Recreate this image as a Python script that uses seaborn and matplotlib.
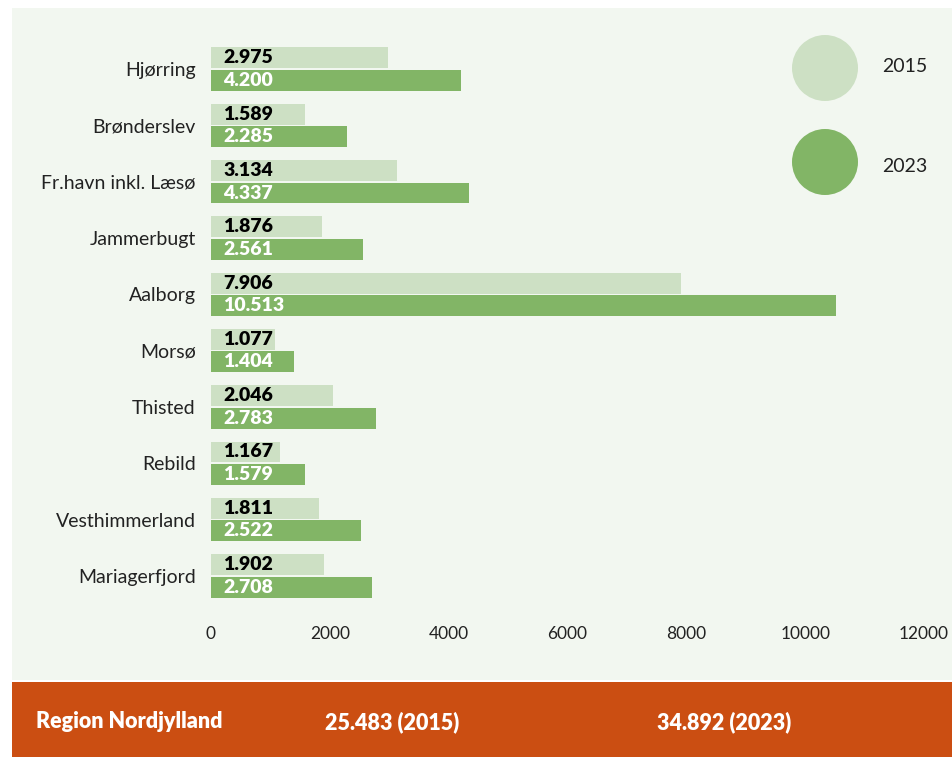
import pandas as pd
import seaborn as sns
import matplotlib.pyplot as plt
from matplotlib.patches import Rectangle, Ellipse

kommuner = ['Hjørring', 'Brønderslev', 'Fr.havn inkl. Læsø', 'Jammerbugt', 'Aalborg',
            'Morsø', 'Thisted', 'Rebild', 'Vesthimmerland', 'Mariagerfjord']
v2015 = [2975, 1589, 3134, 1876, 7906, 1077, 2046, 1167, 1811, 1902]
v2023 = [4200, 2285, 4337, 2561, 10513, 1404, 2783, 1579, 2522, 2708]
years = ['2015', '2023']
total_label = 'Region Nordjylland'
totals = ['25.483 (2015)', '34.892 (2023)']

bg = '#f2f7f0'
c15 = '#cde0c4'
c23 = '#82b566'
orange = '#cb4e12'

df = pd.DataFrame({
    'kommune': kommuner * 2,
    'antal': v2015 + v2023,
    'aar': ['2015'] * len(v2015) + ['2023'] * len(v2023),
})

sns.set_theme(style='white')
plt.rcParams['font.family'] = ['Lato', 'DejaVu Sans']

fig = plt.figure(figsize=(9.53, 7.57), dpi=100, facecolor='white')
# baggrunde
fig.add_artist(Rectangle((12 / 953, 1 - 680 / 757), 941 / 953, 672 / 757,
                         transform=fig.transFigure, facecolor=bg, edgecolor='none', zorder=-10))
fig.add_artist(Rectangle((12 / 953, 0), 941 / 953, 75 / 757,
                         transform=fig.transFigure, facecolor=orange, edgecolor='none', zorder=-10))

ax = fig.add_axes([211 / 953, 1 - 604 / 757, (924 - 211) / 953, (604 - 41) / 757])
ax.set_facecolor('none')

sns.barplot(data=df, y='kommune', x='antal', hue='aar', orient='h',
            palette={'2015': c15, '2023': c23}, width=0.8, gap=0.07,
            saturation=1, legend=False, linewidth=0, ax=ax)

ax.set_xlim(0, 12000)
ax.set_ylim(len(kommuner) - 0.5, -0.5)
ax.set_xlabel('')
ax.set_ylabel('')
for s in ax.spines.values():
    s.set_visible(False)
ax.tick_params(axis='y', length=0, pad=11, labelsize=14, labelcolor='#222222')
ax.tick_params(axis='x', length=0, pad=16, labelsize=12.5, labelcolor='#222222')
ax.set_xticks(range(0, 12001, 2000))

# værdier inde i søjlerne
for cont, farve in zip(ax.containers, ['black', 'white']):
    for bar in cont:
        val = bar.get_width()
        txt = f'{int(val):,}'.replace(',', '.')
        ax.annotate(txt, xy=(0, bar.get_y() + bar.get_height() / 2), xytext=(9, 0),
                    textcoords='offset points', va='center', ha='left',
                    fontsize=14, fontweight='heavy', color=farve)

# legende
for i, (yr, col, ty) in enumerate(zip(years, [c15, c23], [67, 166])):
    cy = 68 + i * 94
    fig.add_artist(Ellipse((825 / 953, 1 - cy / 757), 66 / 953, 66 / 757,
                           transform=fig.transFigure, facecolor=col, edgecolor='none'))
    fig.text(882 / 953, 1 - ty / 757, yr, va='center', ha='left', fontsize=14,
             color='#222222')

# total-bånd
for xp, t in zip([36, 325, 657], [total_label] + totals):
    fig.text(xp / 953, 1 - 722 / 757, t, color='white', fontweight='heavy',
             fontsize=15.5, va='center')

fig.savefig('out.png', dpi=100, facecolor='white')
